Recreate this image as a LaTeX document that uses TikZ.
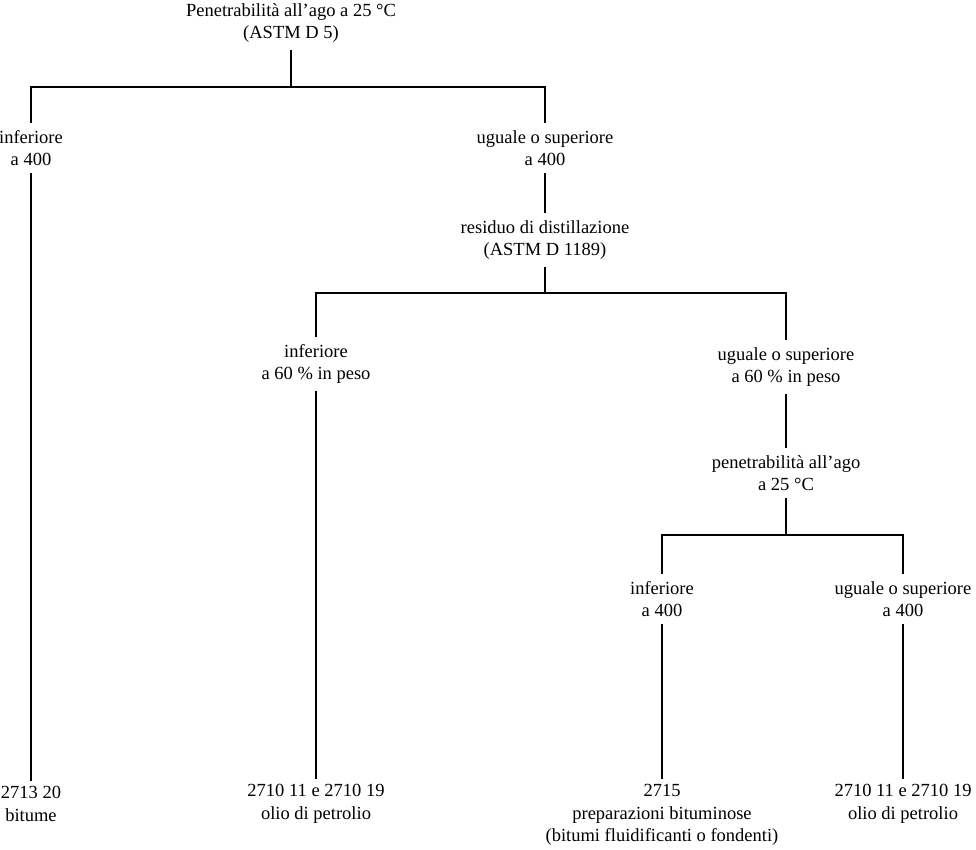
\documentclass[tikz,border=0pt]{standalone}
\usepackage{fontspec}
\setmainfont{Liberation Serif}
\begin{document}
\begin{tikzpicture}[x=1pt,y=-1pt,
  lbl/.style={align=center,font=\fontsize{18.5}{22.5}\selectfont,inner sep=7pt},
  leaf/.style={lbl,inner ysep=5pt},
  con/.style={line width=2.8pt}]
\useasboundingbox (0,0) rectangle (976,849);
% nodes
\node[lbl] (t)  at (291,23)  {Penetrabilità all’ago a 25 °C\\(ASTM D 5)};
\node[lbl] (l1) at (31,148)  {inferiore\\a 400};
\node[lbl] (r1) at (545,148) {uguale o superiore\\a 400};
\node[lbl] (rd) at (545,240) {residuo di distillazione\\(ASTM D 1189)};
\node[lbl] (l2) at (316,364) {inferiore\\a 60 \% in peso};
\node[lbl] (r2) at (786,367) {uguale o superiore\\a 60 \% in peso};
\node[lbl] (p2) at (786,473) {penetrabilità all’ago\\a 25 °C};
\node[lbl] (l3) at (662,599) {inferiore\\a 400};
\node[lbl] (r3) at (903,599) {uguale o superiore\\a 400};
\node[leaf] (f1) at (31,804)  {2713 20\\bitume};
\node[leaf] (f2) at (316,804) {2710 11 e 2710 19\\olio di petrolio};
\node[leaf] (f3) at (662,815) {2715\\preparazioni bituminose\\(bitumi fluidificanti o fondenti)};
\node[leaf] (f4) at (903,804) {2710 11 e 2710 19\\olio di petrolio};
% junctions
\coordinate (b1) at (291,87);
\coordinate (b2) at (545,293);
\coordinate (b3) at (786,535);
% connectors
\draw[con] (t.south) -- (b1);
\draw[con] (l1.north) |- (b1) -| (r1.north);
\draw[con] (l1.south) -- (f1.north);
\draw[con] (r1.south) -- (rd.north);
\draw[con] (rd.south) -- (b2);
\draw[con] (l2.north) |- (b2) -| (r2.north);
\draw[con] (l2.south) -- (f2.north);
\draw[con] (r2.south) -- (p2.north);
\draw[con] (p2.south) -- (b3);
\draw[con] (l3.north) |- (b3) -| (r3.north);
\draw[con] (l3.south) -- (f3.north);
\draw[con] (r3.south) -- (f4.north);
\end{tikzpicture}
\end{document}
